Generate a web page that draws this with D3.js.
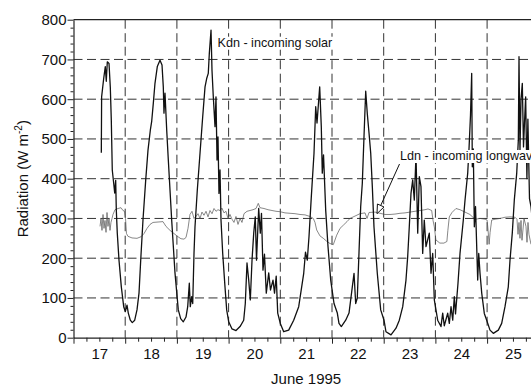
<!DOCTYPE html>
<html><head><meta charset="utf-8">
<script src="https://cdn.jsdelivr.net/npm/d3@7/dist/d3.min.js"></script>
<style>body{margin:0;background:#fff}svg{display:block}</style>
</head><body>
<svg id="c" width="531" height="387"></svg>
<script>
// Time in days of June 1995 (17.0 = June 17, 00:00)
const kdnTime = [17.538,17.544,17.584,17.615,17.634,17.654,17.687,17.712,17.731,17.750,17.778,17.797,17.816,17.828,17.847,17.880,17.925,17.971,18.002,18.035,18.060,18.099,18.137,18.184,18.228,18.267,18.300,18.344,18.397,18.441,18.486,18.513,18.544,18.576,18.621,18.673,18.712,18.737,18.750,18.770,18.803,18.834,18.899,18.963,19.027,19.073,19.124,19.176,19.209,19.240,19.259,19.286,19.306,19.331,19.350,19.395,19.447,19.499,19.544,19.576,19.607,19.627,19.660,19.679,19.704,19.737,19.756,19.776,19.795,19.814,19.834,19.853,19.886,19.930,19.963,20.002,20.066,20.143,20.221,20.292,20.323,20.356,20.389,20.420,20.453,20.486,20.516,20.540,20.582,20.613,20.636,20.665,20.694,20.729,20.776,20.810,20.859,20.888,20.921,20.950,21.000,21.066,21.162,21.259,21.356,21.453,21.487,21.522,21.555,21.600,21.652,21.685,21.710,21.762,21.793,21.812,21.836,21.878,21.923,21.975,22.039,22.103,22.135,22.180,22.265,22.329,22.393,22.426,22.458,22.489,22.522,22.555,22.586,22.619,22.652,22.683,22.716,22.749,22.780,22.812,22.876,22.942,23.006,23.044,23.141,23.238,23.302,23.368,23.431,23.464,23.495,23.528,23.561,23.592,23.625,23.658,23.689,23.721,23.754,23.785,23.818,23.882,23.915,23.948,23.979,24.044,24.108,24.141,24.172,24.238,24.269,24.302,24.335,24.366,24.389,24.437,24.476,24.540,24.573,24.625,24.650,24.679,24.702,24.714,24.733,24.753,24.776,24.799,24.818,24.838,24.863,24.896,24.946,24.992,25.056,25.120,25.217,25.282,25.346,25.410,25.443,25.487,25.526,25.573,25.604,25.617,25.636,25.656,25.681,25.704,25.723,25.746,25.770,25.789,25.820,25.849,25.907];
const kdnValue = [465,606,652,682,645,694,690,630,548,422,388,364,396,321,263,195,128,78,66,82,62,44,38,44,70,112,195,296,397,472,522,545,590,640,682,698,686,631,565,615,522,447,296,163,70,48,40,52,78,137,78,103,86,213,279,372,464,556,631,652,665,715,774,672,606,531,606,447,505,363,422,296,212,128,70,40,22,18,28,44,86,188,145,95,195,263,304,195,325,263,313,170,210,112,163,120,145,112,155,62,36,15,19,44,78,162,215,195,254,355,464,581,540,631,531,414,460,321,229,145,86,62,36,28,44,62,128,162,86,100,213,330,388,506,620,563,515,464,380,279,162,70,44,15,7,24,44,78,145,204,279,363,397,346,460,263,405,380,212,296,229,263,162,212,95,44,28,62,30,62,36,78,44,103,60,137,212,296,346,414,475,560,665,430,475,279,330,229,145,212,162,112,61,44,19,11,19,36,78,128,195,263,346,414,497,707,470,600,640,480,540,606,400,550,350,330,250];
const ldnTime = [17.513,17.532,17.551,17.571,17.590,17.609,17.629,17.648,17.667,17.687,17.706,17.725,17.745,17.764,17.803,17.861,17.919,17.957,17.986,18.006,18.025,18.054,18.132,18.228,18.306,18.364,18.422,18.480,18.538,18.634,18.731,18.789,18.867,18.944,19.021,19.079,19.137,19.176,19.215,19.253,19.292,19.331,19.369,19.408,19.447,19.485,19.524,19.563,19.602,19.640,19.679,19.718,19.756,19.795,19.834,19.872,19.911,19.950,19.988,20.027,20.066,20.104,20.143,20.182,20.221,20.259,20.298,20.356,20.414,20.472,20.530,20.574,20.607,20.685,20.762,20.840,20.917,20.995,21.091,21.188,21.284,21.381,21.478,21.574,21.638,21.671,21.704,21.768,21.832,21.903,21.961,22.025,22.091,22.155,22.219,22.290,22.348,22.445,22.542,22.639,22.677,22.716,22.832,22.929,23.025,23.122,23.219,23.315,23.412,23.509,23.605,23.702,23.799,23.857,23.928,23.954,23.979,24.009,24.086,24.164,24.222,24.241,24.269,24.321,24.398,24.476,24.573,24.667,24.768,24.865,24.961,25.000,25.019,25.039,25.058,25.089,25.153,25.250,25.346,25.443,25.540,25.578,25.598,25.617,25.636,25.656,25.675,25.714,25.752,25.772,25.791,25.810,25.849];
const ldnValue = [280,300,270,310,275,295,265,315,280,300,270,290,300,310,322,325,327,320,318,300,262,255,251,250,254,262,275,285,290,291,292,280,270,262,254,249,248,252,275,310,318,300,305,312,300,316,308,318,304,320,312,325,318,322,320,326,314,318,300,310,298,290,305,285,300,290,312,318,320,322,325,338,327,325,322,320,318,317,314,313,312,310,309,305,300,290,271,256,250,242,237,234,258,275,283,292,300,306,312,314,300,315,316,313,310,310,311,313,314,316,318,320,322,324,320,295,279,246,238,238,242,270,304,315,325,322,316,310,298,300,298,296,270,235,265,296,298,300,303,304,303,298,260,290,250,295,245,300,280,240,290,260,235];
const dayLabels = ["17","18","19","20","21","22","23","24","25"];
const dayTickValues = [17,18,19,20,21,22,23,24,25,26];
const yTickValues = [0,100,200,300,400,500,600,700,800];
const xTitle = "June 1995";
const yTitle = "Radiation (W m";
const yTitleSup = "-2";
const kdnLabel = "Kdn - incoming solar";
const ldnLabel = "Ldn - incoming longwave";

const FONT = "'Liberation Sans', Arial, Helvetica, sans-serif";
const svg = d3.select("#c");
const x = d3.scaleLinear().domain([17, 26]).range([73.5, 538.8]);
const y = d3.scaleLinear().domain([0, 800]).range([337.7, 19.7]);
const [x0, x1] = x.range();
const [yb, yt] = y.range();

svg.append("defs").append("clipPath").attr("id","clip")
  .append("rect").attr("x", x0).attr("y", yt - 2).attr("width", x1 - x0).attr("height", yb - yt + 2);

// gridlines
const grid = svg.append("g").attr("stroke", "#333").attr("stroke-width", 1).attr("stroke-dasharray", "9,4.5").attr("fill","none");
grid.selectAll("line.h").data(yTickValues.filter(v => v > 0 && v < 800)).join("line")
  .attr("x1", x0).attr("x2", x1).attr("y1", d => y(d)).attr("y2", d => y(d));
grid.selectAll("line.v").data(dayTickValues.filter(d => d > 17)).join("line")
  .attr("x1", d => x(d)).attr("x2", d => x(d)).attr("y1", yt).attr("y2", yb);

// series
const line = d3.line().x(d => x(d[0])).y(d => y(d[1]));
const plot = svg.append("g").attr("clip-path", "url(#clip)");
plot.append("path").datum(d3.zip(ldnTime, ldnValue)).attr("d", line)
  .attr("fill", "none").attr("stroke", "#555").attr("stroke-width", 0.7);
plot.append("path").datum(d3.zip(kdnTime, kdnValue)).attr("d", line)
  .attr("fill", "none").attr("stroke", "#111").attr("stroke-width", 1.3).attr("stroke-linejoin","round");

// top frame
svg.append("line").attr("x1", x0).attr("x2", x1).attr("y1", yt).attr("y2", yt).attr("stroke", "#222").attr("stroke-width", 1.2);

// axes
svg.append("g").attr("transform", `translate(${x0},0)`)
  .call(d3.axisLeft(y).tickValues(yTickValues).tickSize(6).tickPadding(1).tickSizeOuter(0));
const yMinor = svg.append("g").attr("transform", `translate(${x0},0)`)
  .call(d3.axisLeft(y).tickValues(d3.range(0, 801, 20).filter(v => v % 100 !== 0)).tickSize(3).tickFormat("").tickSizeOuter(0));
yMinor.select(".domain").remove();

svg.append("g").attr("transform", `translate(0,${yb})`)
  .call(d3.axisBottom(x).tickValues(dayTickValues).tickSize(6).tickFormat("").tickSizeOuter(0));
const xMinor = svg.append("g").attr("transform", `translate(0,${yb})`)
  .call(d3.axisBottom(x).tickValues(d3.range(17, 26, 0.25).filter(v => v % 1 !== 0)).tickSize(4).tickFormat("").tickSizeOuter(0));
xMinor.select(".domain").remove();
const xLab = svg.append("g").attr("transform", `translate(0,${yb})`)
  .call(d3.axisBottom(x).tickValues(dayTickValues.slice(0, 9).map(d => d + 0.5)).tickSize(0).tickPadding(11)
    .tickFormat((d, i) => dayLabels[i]));
xLab.select(".domain").remove();

svg.selectAll(".domain").attr("stroke", "#222").attr("stroke-width", 1.2);
svg.selectAll(".tick line").attr("stroke", "#222");
svg.selectAll(".tick text").attr("font-family", FONT).attr("font-size", 15).attr("fill", "#111");

// titles
svg.append("text").attr("x", x(21.5)).attr("y", 384).attr("text-anchor", "middle")
  .attr("font-family", FONT).attr("font-size", 15).attr("fill", "#111").text(xTitle);
const yt_ = svg.append("text").attr("transform", `translate(28,${(yt + yb) / 2}) rotate(-90)`)
  .attr("text-anchor", "middle").attr("font-family", FONT).attr("font-size", 15).attr("fill", "#111");
yt_.append("tspan").text(yTitle);
yt_.append("tspan").attr("dy", -6).attr("font-size", 10).text(yTitleSup);
yt_.append("tspan").attr("dy", 6).text(")");

// annotations with white backing
function label(txt, lx, ly) {
  const g = svg.append("g");
  const t = g.append("text").attr("x", lx).attr("y", ly).attr("font-family", FONT).attr("font-size", 12.6).attr("fill", "#111").text(txt);
  const b = t.node().getBBox();
  g.insert("rect", "text").attr("x", b.x - 1.5).attr("y", b.y + 1).attr("width", b.width + 3).attr("height", b.height - 1).attr("fill", "#fff");
}
label(kdnLabel, 217.5, 46.7);
label(ldnLabel, 400, 160);

// arrow
const ax0 = 399.5, ay0 = 164, ax1 = 377, ay1 = y(312);
const dx = ax1 - ax0, dy = ay1 - ay0, L = Math.hypot(dx, dy), ux = dx / L, uy = dy / L;
const hl = 9, hw = 3.6;
const bx = ax1 - ux * hl, by = ay1 - uy * hl;
svg.append("line").attr("x1", ax0).attr("y1", ay0).attr("x2", bx).attr("y2", by).attr("stroke", "#111").attr("stroke-width", 1);
svg.append("path").attr("d", `M${ax1},${ay1}L${bx - uy * hw},${by + ux * hw}L${bx + uy * hw},${by - ux * hw}Z`)
  .attr("fill", "#fff").attr("stroke", "#111").attr("stroke-width", 1);
</script>
</body></html>
